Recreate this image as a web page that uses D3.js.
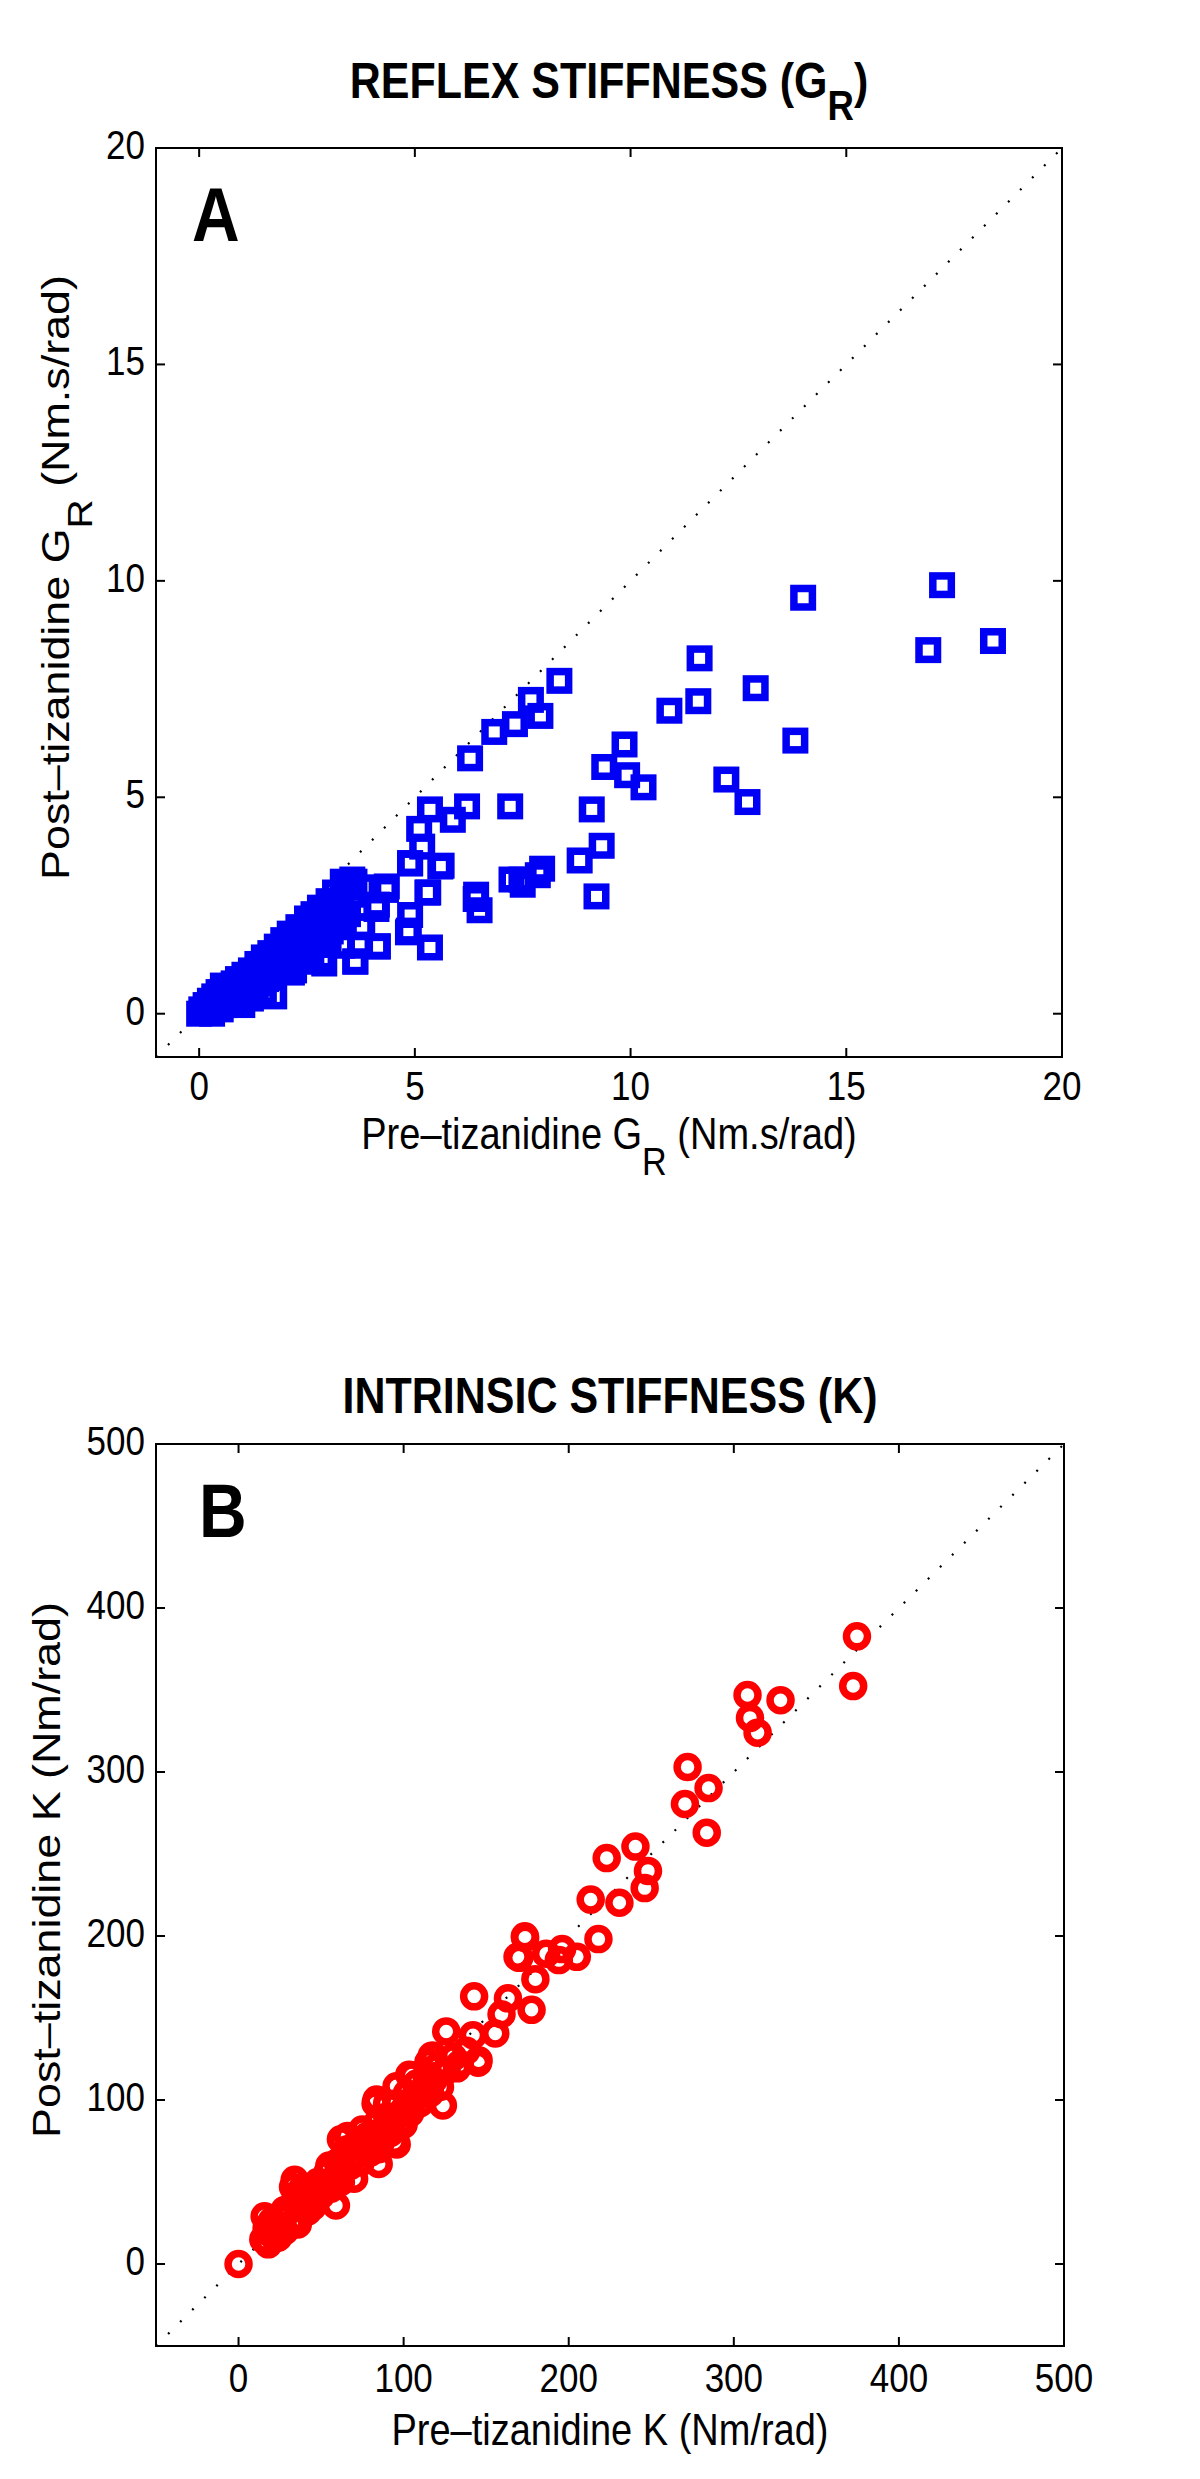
<!DOCTYPE html>
<html><head><meta charset="utf-8">
<script src="https://cdn.jsdelivr.net/npm/d3@7"></script>
<style>
body{margin:0;background:#fff}
text{font-family:"Liberation Sans",Arial,Helvetica,sans-serif;fill:#000}
</style>
</head><body>
<svg id="chart" width="1200" height="2479"></svg>
<script>
// ---------- Panel A: reflex stiffness G_R (Nm.s/rad) ----------
const reflexPre = [
  17.22,14.0,18.4,16.9,11.6,8.35,12.9,7.69,11.57,10.9,7.91,7.32,6.84,13.82,9.86,6.28,9.39,9.92,10.3,12.22,
  12.71,6.21,7.21,9.1,5.35,5.88,5.1,5.17,4.89,5.62,9.33,8.82,7.95,7.47,7.85,7.5,7.24,9.21,5.29,6.41,
  6.5,4.89,4.86,5.35,4.33,4.11,4.14,3.62,3.77,3.55,3.33,4.35,4.12,3.78,3.73,4.14,3.62,2.9,1.74,4.84,
  5.31,4.89,5.59,6.42,3.31,3.8,3.5,
  0,0.05,0.1,0.15,0.2,0.25,0.3,0.35,0.4,0.45,0.5,0.55,0.6,0.65,0.7,0.75,0.8,0.85,0.9,0.95,
  1.0,1.05,1.1,1.15,1.2,1.25,1.3,1.35,1.4,1.45,1.5,1.55,1.6,1.65,1.7,1.75,1.8,1.85,1.9,1.95,
  2.0,2.05,2.1,2.15,2.2,2.25,2.3,2.35,2.4,2.45,2.5,2.55,2.6,2.65,2.7,2.75,2.8,2.85,2.9,2.95,
  3.0,3.05,3.1,3.15,3.2,3.3,3.4,3.45,3.55,3.6,0.3,0.5,0.8,1.2,1.5,1.0,2.2,2.6,3.0
];
const reflexPost = [
  9.90,9.61,8.61,8.40,8.21,7.69,7.52,7.25,7.22,7.0,6.88,6.69,6.51,6.31,6.22,5.90,5.70,5.51,5.23,5.41,
  4.89,4.79,4.79,4.72,4.72,4.48,4.27,3.86,3.48,3.42,3.88,3.54,3.35,3.10,3.20,2.98,3.10,2.71,2.80,2.65,
  2.39,2.28,1.92,1.53,2.86,2.42,1.55,1.21,2.02,3.10,3.05,2.94,2.52,2.02,1.57,1.56,1.20,1.16,0.40,1.88,
  2.80,3.47,3.40,2.75,1.57,2.92,3.04,
  0,0.1,0.05,0.2,0.1,0.3,0.15,0.4,0.25,0.5,0.3,0.65,0.2,0.45,0.6,0.35,0.7,0.5,0.8,0.4,
  0.6,0.9,0.5,0.75,1.0,0.6,0.85,1.15,0.7,1.0,1.3,0.8,1.1,1.4,0.9,1.2,1.55,1.0,1.35,1.7,
  1.1,1.5,1.85,0.95,1.3,1.65,2.0,1.2,1.5,1.9,2.2,1.4,1.75,2.3,1.6,2.0,2.45,1.3,1.8,2.25,
  2.6,1.9,2.4,2.8,2.1,2.6,3.0,2.3,2.75,3.05,0.0,0.1,0.25,0.35,0.5,0.2,1.0,1.3,1.6
];
const reflexTicks = [0, 5, 10, 15, 20];

// ---------- Panel B: intrinsic stiffness K (Nm/rad) ----------
const intrinsicPre = [
  374.6,372.3,308.3,328.3,309.8,314.4,272,284.7,270.4,283.6,240.4,223,248,246,213.3,230.7,218,173.6,169,186.3,
  196,204.9,194,179.8,177.5,142.7,163.2,159.3,155.5,125.8,142,145.4,117,132.3,123.8,103.4,95.7,83,94.5,84.9,
  59,0,34,15.8,35.9,16.6,145.1,83.6,95.8,170,173.4,
  15,17,18,20,22,24,26,28,30,32,34,35,38,40,42,44,46,48,50,52,
  54,56,58,60,62,64,66,68,70,72,74,76,78,80,82,84,86,88,90,92,
  94,96,98,100,102,104,106,108,110,112,114,116,118,120,122,126,130,134,138,66,
  62,75,55,45,38,28,33,20,70,85,100,115,118,105,90
];
const intrinsicPost = [
  382.7,352.4,346.9,343.8,333,324,303,290.2,280.5,263,254.5,247.5,239.7,229.2,222.2,220.3,198.1,198.9,187.3,189.2,
  192,187.3,185.3,173.7,155,163.2,162,152.3,140.6,141.8,139.5,124.3,127,119.3,96.7,115.4,108.4,97.9,74.6,61,
  35.7,0,51.3,29.1,24.1,14.4,122.7,100.3,72.9,186.7,199.8,
  15,22,12,18,25,16,28,20,32,24,38,28,34,42,32,46,38,50,42,48,
  56,46,52,62,50,58,70,60,66,74,62,70,78,68,76,86,74,82,90,80,
  88,98,86,94,104,92,100,110,98,106,114,104,112,120,108,118,126,122,130,78,
  76,82,60,35,45,33,47,26,52,70,85,123,127,115,98
];
const intrinsicTicks = [0, 100, 200, 300, 400, 500];

const svg = d3.select("#chart");
const SY = 1.15; // vertical stretch of the original figure's lettering

function stretchedText(parent, px, py, rotate) {
  return parent.append("g")
    .attr("transform", `translate(${px},${py}) scale(1,${SY})` + (rotate ? " rotate(-90)" : ""))
    .append("text").attr("x", 0).attr("y", 0);
}

function richText(sel, parts, subDy, subScale) {
  parts.forEach(p => {
    if (p.sub) {
      sel.append("tspan").attr("dy", subDy).attr("font-size", subScale + "em").text(p.t);
    } else {
      const t = sel.append("tspan").text(p.t);
      if (p.back) t.attr("dy", -subDy);
    }
  });
}

function panel(cfg) {
  const g = svg.append("g");
  const x = d3.scaleLinear().domain(cfg.domain).range([cfg.left, cfg.right]);
  const y = d3.scaleLinear().domain(cfg.domain).range([cfg.bottom, cfg.top]);
  const tl = 9;

  // dotted identity line
  g.append("line")
    .attr("x1", x(cfg.domain[0])).attr("y1", y(cfg.domain[0]))
    .attr("x2", x(cfg.domain[1])).attr("y2", y(cfg.domain[1]))
    .attr("stroke", "#000").attr("stroke-width", 2.2)
    .attr("stroke-dasharray", "2,15");

  // markers
  const pts = cfg.xs.map((v, i) => [v, cfg.ys[i]]);
  if (cfg.marker === "square") {
    const s = 18.5;
    g.append("g").selectAll("rect").data(pts).join("rect")
      .attr("x", d => x(d[0]) - s / 2).attr("y", d => y(d[1]) - s / 2)
      .attr("width", s).attr("height", s)
      .attr("fill", "none").attr("stroke", cfg.color).attr("stroke-width", 7.5);
  } else {
    g.append("g").selectAll("circle").data(pts).join("circle")
      .attr("cx", d => x(d[0])).attr("cy", d => y(d[1])).attr("r", 10.5)
      .attr("fill", "none").attr("stroke", cfg.color).attr("stroke-width", 7.5);
  }

  // box
  g.append("rect").attr("x", cfg.left).attr("y", cfg.top)
    .attr("width", cfg.right - cfg.left).attr("height", cfg.bottom - cfg.top)
    .attr("fill", "none").attr("stroke", "#000").attr("stroke-width", 2);

  // ticks (inward, all four sides)
  const tg = g.append("g").attr("stroke", "#000").attr("stroke-width", 2);
  cfg.ticks.forEach(t => {
    tg.append("line").attr("x1", x(t)).attr("x2", x(t)).attr("y1", cfg.bottom).attr("y2", cfg.bottom - tl);
    tg.append("line").attr("x1", x(t)).attr("x2", x(t)).attr("y1", cfg.top).attr("y2", cfg.top + tl);
    tg.append("line").attr("y1", y(t)).attr("y2", y(t)).attr("x1", cfg.left).attr("x2", cfg.left + tl);
    tg.append("line").attr("y1", y(t)).attr("y2", y(t)).attr("x1", cfg.right).attr("x2", cfg.right - tl);
  });

  // tick labels
  cfg.ticks.forEach(t => {
    stretchedText(g, x(t), cfg.bottom + cfg.xTickDy, false)
      .attr("text-anchor", "middle").attr("font-size", 35).text(t);
    stretchedText(g, cfg.left - 11, y(t) + 11, false)
      .attr("text-anchor", "end").attr("font-size", 35).text(t);
  });

  // title
  const tt = stretchedText(g, (cfg.left + cfg.right) / 2, cfg.titleY, false)
    .attr("text-anchor", "middle").attr("font-size", 43).attr("font-weight", "bold");
  richText(tt, cfg.title, 19, 0.85);

  // x label
  const xl = stretchedText(g, (cfg.left + cfg.right) / 2, cfg.xLabelY, false)
    .attr("text-anchor", "middle").attr("font-size", 38);
  richText(xl, cfg.xLabel, 23, 0.9);

  // y label
  const cy = (cfg.top + cfg.bottom) / 2 - 25;
  const yl = stretchedText(g, cfg.yLabelX, cy, true)
    .attr("text-anchor", "middle").attr("font-size", 39);
  richText(yl, cfg.yLabel, 23, 0.9);

  // panel letter
  stretchedText(g, cfg.left + cfg.letterDx, cfg.top + 93, false)
    .attr("font-size", 66).attr("font-weight", "bold").text(cfg.letter);
}

panel({
  left: 156, right: 1062, top: 148, bottom: 1057,
  domain: [-1, 20], ticks: reflexTicks,
  xs: reflexPre, ys: reflexPost, marker: "square", color: "#0000f5",
  title: [{t: "REFLEX STIFFNESS (G"}, {t: "R", sub: true}, {t: ")", back: true}],
  titleY: 98,
  xLabel: [{t: "Pre\u2013tizanidine G"}, {t: "R", sub: true}, {t: " (Nm.s/rad)", back: true}],
  yLabel: [{t: "Post\u2013tizanidine G"}, {t: "R", sub: true}, {t: " (Nm.s/rad)", back: true}],
  xTickDy: 43, xLabelY: 1149, yLabelX: 69,
  letter: "A", letterDx: 36
});

panel({
  left: 156, right: 1064, top: 1444, bottom: 2346,
  domain: [-50, 500], ticks: intrinsicTicks,
  xs: intrinsicPre, ys: intrinsicPost, marker: "circle", color: "#ff0000",
  title: [{t: "INTRINSIC STIFFNESS (K)"}],
  titleY: 1413,
  xLabel: [{t: "Pre\u2013tizanidine K (Nm/rad)"}],
  yLabel: [{t: "Post\u2013tizanidine K (Nm/rad)"}],
  xTickDy: 46, xLabelY: 2445, yLabelX: 60,
  letter: "B", letterDx: 43
});
</script>
</body></html>
